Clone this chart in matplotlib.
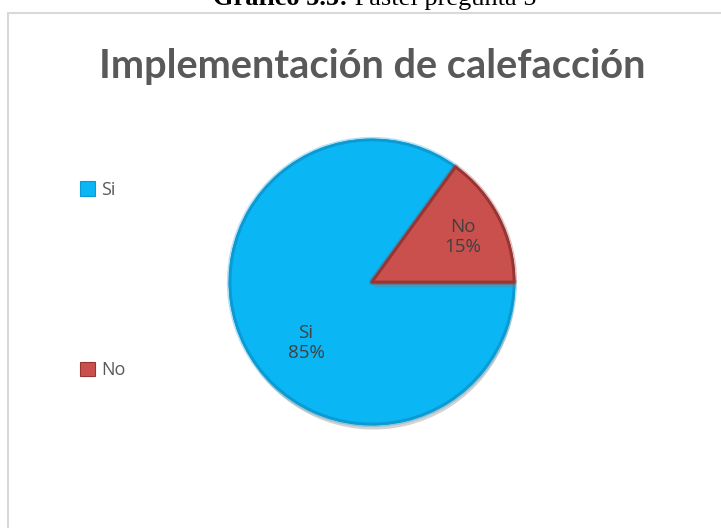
import matplotlib.pyplot as plt
import matplotlib.patches as mpatches
import matplotlib.patheffects as pe

labels = ['Si', 'No']
values = [85, 15]
colors = ['#0bb6f4', '#c9504d']
edge_colors = ['#0a9bd4', '#983533']

caption_bold = 'Gráfico 5.5:'
caption_rest = ' Pastel pregunta 5'
title = 'Implementación de calefacción'

W, H = 721, 528
fig = plt.figure(figsize=(W / 100, H / 100), dpi=100)

# chart frame (Excel style border, clipped at right/bottom)
frame = mpatches.Rectangle((7.5 / W, -0.05), 1.0, (H - 13) / H + 0.05,
                           transform=fig.transFigure, fill=False,
                           edgecolor='#d9d9d9', linewidth=1.5)
fig.patches.append(frame)

# caption above the chart, partly cut off at the top like the source
t1 = fig.text(213 / W, 1 - 5 / H, caption_bold, fontsize=19, fontweight='bold',
              family='Liberation Serif', va='baseline', ha='left')
fig.canvas.draw()
bb = t1.get_window_extent()
fig.text(bb.x1 / W, 1 - 5 / H, caption_rest, fontsize=19,
         family='Liberation Serif', va='baseline', ha='left')

# title, sized to the width it has in the source
tt = fig.text(372 / W, 1 - 78 / H, title, fontsize=25, fontweight='bold',
              family='Lato', color='#595959', ha='center', va='baseline')
fig.canvas.draw()
tw = tt.get_window_extent().width
tt.set_fontsize(25 * 548 / tw)

# pie
cx, cy, r = 372, 282, 142
ax = fig.add_axes([(cx - r) / W, (H - cy - r) / H, 2 * r / W, 2 * r / H])
wedges, _ = ax.pie(values, colors=colors, startangle=54, counterclock=True,
                   radius=1.0,
                   wedgeprops=dict(linewidth=2.0, joinstyle='round'))
for w, ec in zip(wedges, edge_colors):
    w.set_edgecolor(ec)
    w.set_path_effects([pe.SimplePatchShadow(offset=(1, -4), shadow_rgbFace='#7f7f7f', alpha=0.35),
                        pe.withStroke(linewidth=4.5, foreground=ec, alpha=0.3),
                        pe.Normal()])
ax.set_xlim(-1.0, 1.0)
ax.set_ylim(-1.0, 1.0)
ax.set_aspect('equal')
ax.axis('off')

# data labels
label_pos = [(306, 343), (463, 237)]
for (px, py), lab, v in zip(label_pos, labels, values):
    fig.text(px / W, 1 - py / H, f'{lab}\n{v}%', fontsize=13.5,
             family='Open Sans', color='#404040', ha='center', va='center',
             linespacing=1.1)

# legend
handles = [mpatches.Patch(facecolor=c, edgecolor=ec, linewidth=0.8)
           for c, ec in zip(colors, edge_colors)]
fig.legend(handles, labels, loc='center left',
           bbox_to_anchor=(80 / W, 1 - (193 + 367) / 2 / H),
           frameon=False, labelspacing=9.0,
           handlelength=0.85, handleheight=0.85, handletextpad=0.3,
           borderpad=0, borderaxespad=0,
           prop={'family': 'Open Sans', 'size': 13},
           labelcolor='#595959')

fig.savefig('out.png', dpi=100, facecolor='white')
